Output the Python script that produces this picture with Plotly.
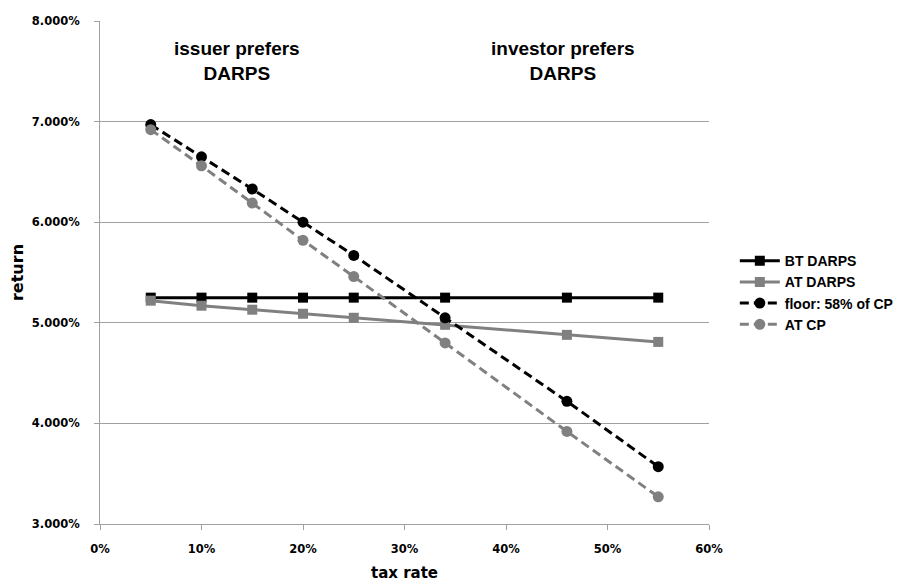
import plotly.graph_objects as go

tax_rate = [5, 10, 15, 20, 25, 34, 46, 55]
bt_darps = [5.25, 5.25, 5.25, 5.25, 5.25, 5.25, 5.25, 5.25]
at_darps = [5.22, 5.17, 5.13, 5.09, 5.05, 4.98, 4.88, 4.81]
floor_cp = [6.97, 6.65, 6.33, 6.00, 5.67, 5.05, 4.22, 3.57]
at_cp = [6.92, 6.56, 6.19, 5.82, 5.46, 4.80, 3.92, 3.27]
x_ticks = [0, 10, 20, 30, 40, 50, 60]
y_ticks = [3, 4, 5, 6, 7, 8]

fig = go.Figure()
fig.add_trace(go.Scatter(x=tax_rate, y=bt_darps, name="BT DARPS", mode="lines+markers",
                         line=dict(color="black", width=3),
                         marker=dict(symbol="square", size=10, color="black")))
fig.add_trace(go.Scatter(x=tax_rate, y=at_darps, name="AT DARPS", mode="lines+markers",
                         line=dict(color="#808080", width=3),
                         marker=dict(symbol="square", size=10, color="#808080")))
fig.add_trace(go.Scatter(x=tax_rate, y=floor_cp, name="floor: 58% of CP", mode="lines+markers",
                         line=dict(color="black", width=3, dash="9px,5px"),
                         marker=dict(symbol="circle", size=11, color="black")))
fig.add_trace(go.Scatter(x=tax_rate, y=at_cp, name="AT CP", mode="lines+markers",
                         line=dict(color="#808080", width=3, dash="9px,5px"),
                         marker=dict(symbol="circle", size=11, color="#808080")))

ann_font = dict(family="Liberation Sans", size=19, color="black")
fig.add_annotation(x=13.5, y=7.6, text="<b>issuer prefers<br>DARPS</b>", showarrow=False,
                   font=ann_font, align="center")
fig.add_annotation(x=45.6, y=7.6, text="<b>investor prefers<br>DARPS</b>", showarrow=False,
                   font=ann_font, align="center")

fig.update_layout(
    width=905, height=574,
    margin=dict(l=92, r=204, t=13, b=58, autoexpand=False),
    paper_bgcolor="white", plot_bgcolor="white",
    font=dict(family="DejaVu Sans", color="black"),
    legend=dict(x=1.0424, y=0.46, xanchor="left", yanchor="middle",
                font=dict(family="Liberation Sans", size=14, color="black", weight="bold"),
                tracegroupgap=0, itemwidth=40),
    showlegend=True,
)
fig.update_xaxes(range=[0, 60], tickvals=x_ticks, ticktext=[f"{v}%" for v in x_ticks],
                 showgrid=False, showline=True, linecolor="#a0a0a0", linewidth=1,
                 ticks="outside", ticklen=5, tickcolor="#a0a0a0", ticklabelstandoff=9,
                 tickfont=dict(family="DejaVu Sans", size=11.5, weight="bold"),
                 title=dict(text="<b>tax rate</b>", font=dict(family="DejaVu Sans", size=15), standoff=14),
                 zeroline=False, automargin=False)
fig.update_yaxes(range=[3, 8], tickvals=y_ticks, ticktext=[f"{v:.3f}%" for v in y_ticks],
                 showgrid=True, gridcolor="#a0a0a0", gridwidth=1,
                 showline=True, linecolor="#a0a0a0", linewidth=1,
                 ticks="outside", ticklen=5, tickcolor="#a0a0a0", ticklabelstandoff=12,
                 tickfont=dict(family="DejaVu Sans", size=11.5, weight="bold"),
                 title=dict(text="<b>return</b>", font=dict(family="DejaVu Sans", size=16), standoff=6),
                 zeroline=False, automargin=False)

fig.write_html("out.html")
